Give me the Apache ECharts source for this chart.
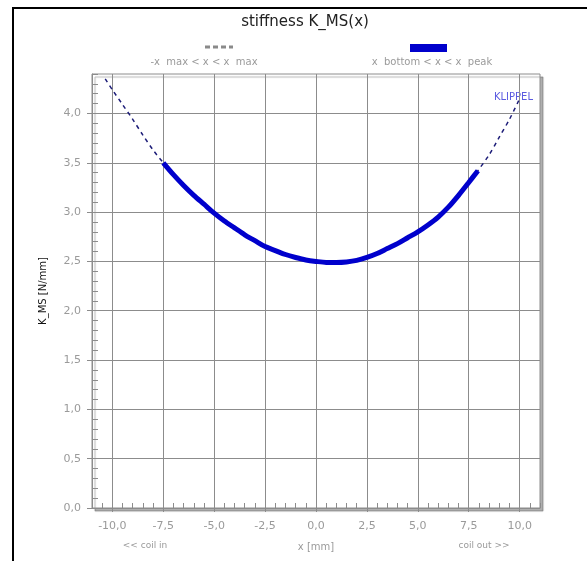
<!DOCTYPE html>
<html>
<head>
<meta charset="utf-8">
<script src="https://cdn.jsdelivr.net/npm/echarts@6/dist/echarts.min.js"></script>
<style>html,body{margin:0;padding:0;background:#fff}#c{width:587px;height:561px}</style>
</head>
<body>
<div id="c"></div>
<script>
// ---- data ----
const xValues = [-10.35, -10.0, -9.5, -9.0, -8.5, -8.0, -7.5, -7.0, -6.5, -6.0, -5.5, -5.0, -4.5, -4.0, -3.5, -3.0, -2.5, -2.0, -1.5, -1.0, -0.5, 0.0, 0.5, 1.0, 1.5, 2.0, 2.5, 3.0, 3.5, 4.0, 4.5, 5.0, 5.5, 6.0, 6.5, 7.0, 7.5, 7.95, 8.5, 9.0, 9.5, 10.0];
const kValues = [4.35, 4.24, 4.09, 3.94, 3.78, 3.63, 3.50, 3.38, 3.27, 3.17, 3.08, 2.99, 2.91, 2.84, 2.77, 2.71, 2.65, 2.61, 2.57, 2.54, 2.515, 2.50, 2.49, 2.49, 2.495, 2.51, 2.54, 2.58, 2.63, 2.68, 2.74, 2.80, 2.87, 2.95, 3.05, 3.17, 3.30, 3.42, 3.58, 3.76, 3.94, 4.15];
const xBottom = -7.5;
const xPeak = 7.95;
const xTickValues = [-10, -7.5, -5, -2.5, 0, 2.5, 5, 7.5, 10];
const yTickValues = [0, 0.5, 1.0, 1.5, 2.0, 2.5, 3.0, 3.5, 4.0];
const titleText = 'stiffness K_MS(x)';
const legendDashedText = '-x  max < x < x  max';
const legendSolidText = 'x  bottom < x < x  peak';
const yName = 'K_MS [N/mm]';
const xName = 'x [mm]';
const xLeftNote = '<< coil in';
const xRightNote = 'coil out >>';

const fullData = xValues.map((x, i) => [x, kValues[i]]);
const rangeData = fullData.filter(p => p[0] >= xBottom && p[0] <= xPeak);

const fmt = v => v.toFixed(1).replace('.', ',');
const grayText = '#9a9a9a';
const gridGray = '#8c8c8c';
const font = 'DejaVu Sans';

const chart = echarts.init(document.getElementById('c'));
chart.setOption({
  animation: false,
  backgroundColor: '#fff',
  title: {
    text: titleText, left: 300, top: 10, textAlign: 'center',
    textStyle: {fontFamily: font, fontSize: 15, fontWeight: 'normal', color: '#222'}
  },
  grid: {
    left: 92, right: 47, top: 74, bottom: 53,
    show: true, borderColor: gridGray, borderWidth: 1, backgroundColor: '#fff',
    shadowColor: 'rgba(0,0,0,0.3)', shadowOffsetX: 3, shadowOffsetY: 3, shadowBlur: 1
  },
  xAxis: [
    {
      type: 'value', min: -11, max: 11, interval: 0.5, position: 'bottom',
      axisLine: {show: true, onZero: false, lineStyle: {color: gridGray}},
      axisTick: {show: true, inside: true, length: 5, lineStyle: {color: gridGray}},
      axisLabel: {show: false}, splitLine: {show: false}
    },
    {
      type: 'value', min: -11, max: 11, position: 'bottom',
      axisLine: {show: false, onZero: false},
      axisTick: {show: true, customValues: xTickValues, length: 4, lineStyle: {color: gridGray}},
      axisLabel: {customValues: xTickValues, formatter: fmt, color: grayText, fontFamily: font, fontSize: 11, margin: 13},
      splitLine: {show: true, lineStyle: {color: gridGray, width: 1}},
      name: xName, nameLocation: 'middle', nameGap: 34,
      nameTextStyle: {color: grayText, fontFamily: font, fontSize: 10}
    }
  ],
  yAxis: [
    {
      type: 'value', min: 0, max: 4.4, interval: 0.1, position: 'left',
      axisLine: {show: true, onZero: false, lineStyle: {color: gridGray}},
      axisTick: {show: true, inside: true, length: 6, lineStyle: {color: gridGray}},
      axisLabel: {show: false}, splitLine: {show: false}
    },
    {
      type: 'value', min: 0, max: 4.4, position: 'left',
      axisLine: {show: false, onZero: false},
      axisTick: {show: true, customValues: yTickValues, length: 5, lineStyle: {color: gridGray}},
      axisLabel: {customValues: yTickValues, formatter: fmt, color: grayText, fontFamily: font, fontSize: 11, margin: 11},
      splitLine: {show: true, lineStyle: {color: gridGray, width: 1}},
      name: yName, nameLocation: 'middle', nameGap: 44, nameRotate: 90,
      nameTextStyle: {color: '#111', fontFamily: font, fontSize: 10}
    }
  ],
  series: [
    {
      name: 'full', type: 'line', xAxisIndex: 0, yAxisIndex: 0, data: fullData,
      showSymbol: false, smooth: 0.3,
      lineStyle: {color: '#1c1c78', width: 1.5, type: [4, 4]}
    },
    {
      name: 'range', type: 'line', xAxisIndex: 0, yAxisIndex: 0, data: rangeData,
      showSymbol: false, smooth: 0.3,
      lineStyle: {color: '#0000cc', width: 5}
    }
  ],
  graphic: [
    {type: 'rect', shape: {x: 13, y: 8, width: 700, height: 700}, style: {fill: 'none', stroke: '#000', lineWidth: 2}, silent: true},
    {type: 'line', shape: {x1: 205, y1: 47, x2: 233, y2: 47}, style: {stroke: '#8a8a8a', lineWidth: 3, lineDash: [5, 3]}},
    {type: 'text', x: 204, y: 62, style: {text: legendDashedText, fill: grayText, font: '10px DejaVu Sans', textAlign: 'center', textVerticalAlign: 'middle'}},
    {type: 'rect', shape: {x: 410, y: 44, width: 37, height: 8}, style: {fill: '#0000cc'}},
    {type: 'text', x: 432, y: 62, style: {text: legendSolidText, fill: grayText, font: '10px DejaVu Sans', textAlign: 'center', textVerticalAlign: 'middle'}},
    {type: 'text', x: 533, y: 97, style: {text: 'KLIPPEL', fill: '#5a5ae0', font: '10px DejaVu Sans', textAlign: 'right', textVerticalAlign: 'middle'}},
    {type: 'text', x: 145, y: 546, style: {text: xLeftNote, fill: grayText, font: '9px DejaVu Sans', textAlign: 'center', textVerticalAlign: 'middle'}},
    {type: 'text', x: 484, y: 546, style: {text: xRightNote, fill: grayText, font: '9px DejaVu Sans', textAlign: 'center', textVerticalAlign: 'middle'}}
  ]
});
</script>
</body>
</html>
